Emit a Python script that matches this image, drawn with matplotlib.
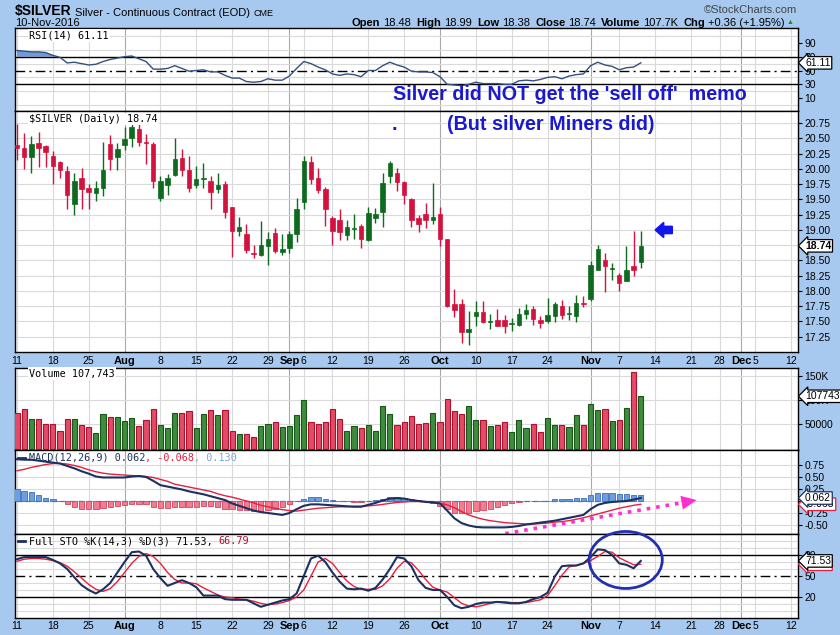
import matplotlib
matplotlib.use('Agg')
import matplotlib.pyplot as plt
import matplotlib.transforms as mtransforms
from matplotlib.patches import Ellipse, FancyArrow
from matplotlib.lines import Line2D
import numpy as np

plt.rcParams['font.family'] = ['Liberation Sans', 'DejaVu Sans']

# daily silver bars, 11-Jul-2016 .. 10-Nov-2016 (trading-day index)
opens = [20.39, 20.35, 20.20, 20.43, 20.37, 20.22, 20.12, 19.97, 19.42, 19.86,
         19.68, 19.60, 19.68, 20.41, 20.20, 20.39, 20.50, 20.66, 20.44, 20.41,
         19.52, 19.73, 19.90, 20.18, 19.99, 19.73, 19.83, 19.81, 19.67, 19.76,
         19.37, 18.98, 18.93, 18.63, 18.59, 18.73, 18.95, 18.64, 18.71, 18.94,
         19.46, 20.12, 19.86, 19.67, 19.19, 19.16, 18.92, 19.01, 19.06, 18.83,
         19.20, 19.30, 19.89, 19.94, 19.79, 19.50, 19.19, 19.26, 19.16, 19.26,
         18.86, 17.79, 17.78, 17.32, 17.59, 17.66, 17.49, 17.52, 17.52, 17.46,
         17.45, 17.62, 17.70, 17.53, 17.50, 17.59, 17.76, 17.62, 17.59, 17.81,
         17.87, 18.35, 18.50, 18.36, 18.27, 18.17, 18.41, 18.48]
highs = [20.73, 20.59, 20.54, 20.61, 20.39, 20.30, 20.13, 20.05, 19.93, 20.01,
         19.75, 19.80, 20.45, 20.55, 20.43, 20.68, 20.73, 20.73, 20.57, 20.45,
         19.89, 19.91, 20.50, 20.32, 20.22, 20.05, 20.10, 19.89, 19.93, 19.80,
         19.37, 19.22, 19.09, 18.75, 19.14, 18.97, 19.03, 18.93, 18.98, 19.53,
         20.21, 20.22, 20.01, 19.71, 19.23, 19.34, 19.17, 19.27, 19.09, 19.37,
         19.36, 19.94, 20.13, 20.01, 19.81, 19.53, 19.25, 19.45, 19.77, 19.37,
         18.86, 18.04, 17.87, 17.68, 17.84, 17.84, 17.63, 17.70, 17.61, 17.56,
         17.72, 17.79, 17.75, 17.59, 17.89, 17.82, 17.86, 17.75, 17.93, 17.91,
         18.49, 18.75, 18.63, 18.46, 18.30, 18.74, 18.99, 18.99]
lows = [20.15, 20.00, 19.94, 20.04, 20.04, 19.75, 19.85, 19.35, 19.24, 19.35,
        19.34, 19.47, 19.56, 19.98, 19.98, 20.31, 20.36, 20.38, 20.08, 19.68,
        19.48, 19.58, 19.89, 19.89, 19.63, 19.68, 19.68, 19.35, 19.60, 19.19,
        18.55, 18.90, 18.62, 18.54, 18.57, 18.43, 18.62, 18.59, 18.63, 18.81,
        19.35, 19.75, 19.61, 19.06, 18.75, 18.83, 18.83, 18.85, 18.71, 18.82,
        19.12, 19.05, 19.77, 19.64, 19.42, 19.05, 18.97, 19.04, 19.09, 18.74,
        17.74, 17.58, 17.14, 17.12, 17.42, 17.47, 17.38, 17.42, 17.31, 17.35,
        17.43, 17.54, 17.45, 17.39, 17.48, 17.49, 17.54, 17.53, 17.49, 17.74,
        17.83, 18.34, 17.98, 18.18, 18.00, 18.16, 18.25, 18.38]
closes = [20.35, 20.20, 20.41, 20.35, 20.28, 20.05, 19.98, 19.58, 19.81, 19.67,
          19.62, 19.68, 19.98, 20.16, 20.33, 20.49, 20.68, 20.44, 20.43, 19.80,
          19.80, 19.85, 20.16, 19.99, 19.68, 19.83, 19.86, 19.63, 19.73, 19.30,
          18.98, 19.05, 18.67, 18.61, 18.75, 18.85, 18.65, 18.69, 18.94, 19.35,
          20.13, 19.83, 19.65, 19.35, 18.98, 18.97, 19.05, 19.04, 18.86, 19.28,
          19.27, 19.77, 20.09, 19.79, 19.57, 19.16, 19.10, 19.16, 19.21, 18.86,
          17.76, 17.69, 17.32, 17.38, 17.66, 17.49, 17.50, 17.43, 17.42, 17.47,
          17.63, 17.69, 17.54, 17.48, 17.60, 17.79, 17.61, 17.64, 17.80, 17.79,
          18.42, 18.68, 18.41, 18.38, 18.13, 18.35, 18.35, 18.74]
volume = [73, 82, 61, 61, 51, 51, 37, 61, 61, 48,
          44, 33, 71, 66, 65, 57, 63, 47, 59, 82,
          49, 43, 73, 73, 78, 43, 71, 80, 69, 80,
          37, 29, 31, 24, 47, 51, 55, 45, 47, 69,
          100, 55, 51, 55, 82, 61, 37, 47, 43, 49,
          37, 88, 71, 49, 55, 67, 51, 53, 73, 55,
          102, 78, 71, 88, 59, 59, 47, 49, 55, 35,
          59, 43, 51, 35, 63, 49, 49, 45, 69, 49,
          92, 80, 82, 57, 59, 84, 157, 107.743]
rsi = [79, 78, 77, 77, 76, 72, 69, 61, 62, 60,
       58, 59, 63, 66, 68, 70, 71, 67, 63, 52,
       52, 53, 57, 53, 49, 50, 51, 48, 48, 43,
       39, 39, 34, 33, 34, 38, 36, 36, 42, 53,
       63, 60, 55, 51, 45, 43, 45, 44, 41, 50,
       50, 57, 62, 58, 55, 49, 48, 48, 47, 41,
       30, 29, 28, 30, 33, 31, 31, 31, 30, 30,
       35, 36, 35, 37, 40, 41, 38, 42, 44, 45,
       57, 62, 58, 56, 51, 54, 55, 61.11]
macd = [0.87, 0.86, 0.86, 0.84, 0.82, 0.80, 0.78, 0.73, 0.68, 0.62,
        0.57, 0.51, 0.49, 0.49, 0.49, 0.49, 0.51, 0.52, 0.50, 0.42,
        0.33, 0.30, 0.27, 0.24, 0.20, 0.17, 0.14, 0.10, 0.06, 0.02,
        -0.05, -0.10, -0.15, -0.20, -0.23, -0.25, -0.27, -0.29, -0.25, -0.17,
        -0.10, -0.07, -0.07, -0.08, -0.09, -0.10, -0.11, -0.12, -0.12, -0.08,
        -0.04, 0.01, 0.05, 0.06, 0.05, 0.02, 0.00, -0.02, -0.03, -0.05,
        -0.20, -0.36, -0.46, -0.51, -0.54, -0.55, -0.55, -0.55, -0.55, -0.54,
        -0.52, -0.49, -0.47, -0.45, -0.43, -0.41, -0.38, -0.35, -0.32, -0.29,
        -0.17, -0.08, -0.04, -0.02, -0.01, 0.00, 0.03, 0.062]
signal = [0.63, 0.66, 0.70, 0.73, 0.76, 0.78, 0.785, 0.77, 0.74, 0.70,
          0.65, 0.61, 0.58, 0.56, 0.55, 0.54, 0.53, 0.52, 0.51, 0.49,
          0.45, 0.41, 0.35, 0.32, 0.29, 0.26, 0.23, 0.20, 0.15, 0.11,
          0.08, 0.04, 0.00, -0.04, -0.09, -0.12, -0.15, -0.18, -0.20, -0.21,
          -0.19, -0.17, -0.15, -0.14, -0.13, -0.12, -0.12, -0.11, -0.11, -0.10,
          -0.09, -0.07, -0.05, -0.03, -0.02, -0.01, -0.01, -0.01, -0.02, -0.05,
          -0.08, -0.14, -0.22, -0.29, -0.34, -0.38, -0.41, -0.43, -0.45, -0.46,
          -0.47, -0.48, -0.48, -0.47, -0.46, -0.44, -0.43, -0.41, -0.38, -0.35,
          -0.31, -0.27, -0.23, -0.19, -0.15, -0.12, -0.09, -0.068]
macd_hist = [0.24, 0.21, 0.19, 0.12, 0.07, 0.035, 0.0, -0.07, -0.12, -0.16,
             -0.16, -0.16, -0.15, -0.12, -0.10, -0.08, -0.07, -0.055, -0.07, -0.12,
             -0.14, -0.14, -0.12, -0.12, -0.12, -0.12, -0.10, -0.10, -0.12, -0.16,
             -0.17, -0.19, -0.19, -0.21, -0.21, -0.19, -0.16, -0.12, -0.055, 0.0,
             0.05, 0.08, 0.08, 0.05, 0.02, 0.0, -0.01, -0.02, -0.02, 0.0,
             0.02, 0.05, 0.08, 0.08, 0.07, 0.035, 0.015, -0.01, -0.035, -0.10,
             -0.17, -0.24, -0.24, -0.24, -0.21, -0.19, -0.16, -0.125, -0.09, -0.05,
             -0.02, -0.01, 0.0, 0.01, 0.01, 0.035, 0.035, 0.05, 0.06, 0.06,
             0.12, 0.17, 0.17, 0.16, 0.14, 0.14, 0.125, 0.13]
sto_k = [74, 77, 77, 77, 77, 73, 68, 60, 48, 37,
         30, 25, 31, 40, 55, 70, 84, 85, 79, 60,
         47, 36, 40, 44, 40, 34, 22, 22, 22, 17,
         16, 16, 16, 11, 6, 9, 12, 15, 17, 25,
         50, 75, 79, 70, 55, 42, 32, 31, 32, 29,
         33, 45, 60, 77, 75, 64, 44, 33, 30, 30,
         20, 8, 4, 6, 10, 12, 12, 13, 12, 11,
         11, 13, 17, 20, 26, 49, 64, 65, 65, 68,
         77, 88, 87, 80, 68, 66, 61, 71.53]
sto_d = [71, 74, 75, 75, 74, 72, 69, 64, 56, 47,
         38, 31, 28, 32, 42, 55, 68, 78, 82, 78,
         68, 55, 45, 40, 40, 39, 33, 28, 23, 20,
         19, 17, 16, 14, 11, 9, 10, 12, 15, 20,
         30, 50, 70, 75, 68, 55, 43, 35, 31, 31,
         31, 36, 46, 61, 71, 69, 58, 45, 34, 30,
         27, 19, 11, 7, 6, 8, 11, 13, 13, 12,
         12, 12, 14, 16, 22, 36, 51, 63, 65, 68,
         72, 78, 85, 84, 76, 71, 66, 66.79]

# date axis: trading-day positions of the labelled days (Sep 5 and Nov 24 are holidays)
tick_pos = [0, 5, 10, 15, 20, 25, 30, 35, 38, 40, 44, 49, 54, 59, 64, 69, 74,
            80, 84, 89, 94, 98, 101, 103, 108]
tick_lab = ['11', '18', '25', 'Aug', '8', '15', '22', '29', 'Sep', '6', '12', '19',
            '26', 'Oct', '10', '17', '24', 'Nov', '7', '14', '21', '28', 'Dec', '5', '12']
price_ticks = [17.25, 17.50, 17.75, 18.00, 18.25, 18.50, 18.75, 19.00, 19.25,
               19.50, 19.75, 20.00, 20.25, 20.50, 20.75]
vol_ticks = [50000, 100000, 150000]
vol_tick_lab = ['50000', '100K', '150K']
macd_ticks = [-0.50, -0.25, 0.0, 0.25, 0.50, 0.75]
macd_tick_lab = ['-0.50', '-0.25', '', '0.25', '0.50', '0.75']

W, H = 840, 635
BG = '#A7C9EF'
GRID = '#DADADA'
MGRID = '#A9A9A9'
RED = '#D3123F'
GREEN = '#0E6A1E'
NAVY = '#1D3060'
SIGRED = '#E5203F'
NOTE = '#1A1ACC'

x = np.arange(len(closes))
o = np.array(opens); c = np.array(closes)
hi = np.array(highs); lo = np.array(lows)
up = c >= o

fig = plt.figure(figsize=(W / 100, H / 100), dpi=100, facecolor=BG)


def panel(top, bottom):
    return fig.add_axes([15 / W, 1 - bottom / H, 783 / W, (bottom - top) / H])


def style(ax):
    ax.set_facecolor('white')
    ax.set_xlim(-0.28, 108.93)
    for s in ax.spines.values():
        s.set_color('black')
        s.set_linewidth(1)
    ax.yaxis.tick_right()
    ax.tick_params(axis='y', which='major', direction='out', length=3, width=0.8,
                   pad=1.5, labelsize=7.5)
    ax.tick_params(axis='y', which='minor', length=0)
    ax.set_xticks(tick_pos)
    ax.set_xticklabels([])
    ax.tick_params(axis='x', length=0)
    for p, l in zip(tick_pos, tick_lab):
        ax.axvline(p, color=MGRID if l.isalpha() else GRID, lw=0.8, zorder=0)
    ax.set_axisbelow(True)


def tag(ax, val, s, ec='black', tc='black', z=6, bold=False):
    tr = mtransforms.blended_transform_factory(ax.transAxes, ax.transData)
    ax.text(1 + 7 / 783, val, s, transform=tr, ha='left', va='center', fontsize=7.5,
            color=tc, clip_on=False, zorder=z, fontweight='bold' if bold else 'normal',
            bbox=dict(boxstyle='larrow,pad=0.12', fc='white', ec=ec, lw=0.9))


def seq_text(x0, y0, parts, **kw):
    r = fig.canvas.get_renderer()
    xx = x0
    for s, gap, props in parts:
        xx += gap
        t = fig.text(xx / W, 1 - y0 / H, s, va='baseline', **{**kw, **props})
        xx += t.get_window_extent(renderer=r).width
    return xx


def legend(y, s, color='black'):
    fig.text(29 / W, 1 - y / H, s, family='DejaVu Sans Mono', fontsize=7.3, va='center',
             color=color, bbox=dict(fc='white', ec='none', pad=0.8))


def tick_labels_x(ax, pad):
    ax.set_xticklabels(tick_lab, fontsize=7.5)
    ax.tick_params(axis='x', pad=pad)
    for t in ax.get_xticklabels():
        if t.get_text().isalpha():
            t.set_fontweight('bold')
            t.set_fontsize(8)


# ---- RSI
ax_rsi = panel(28, 111)
style(ax_rsi)
ax_rsi.set_ylim(-8.7, 111.6)
ax_rsi.set_yticks([10, 30, 50, 70, 90])
ax_rsi.set_yticks(range(0, 101, 10), minor=True)
ax_rsi.grid(axis='y', which='minor', color=GRID, lw=0.8)
ax_rsi.axhline(70, color='black', lw=1)
ax_rsi.axhline(30, color='black', lw=1)
ax_rsi.axhline(50, color='black', lw=1, ls=(0, (7, 3, 1.5, 3)))
r = np.array(rsi)
ax_rsi.fill_between(x, r, 70, where=r >= 70, interpolate=True, color='#6E9BDB', lw=0)
ax_rsi.fill_between(x, r, 30, where=r <= 30, interpolate=True, color='#6E9BDB', lw=0)
ax_rsi.plot(x, r, color='#34507E', lw=1)
tag(ax_rsi, rsi[-1], '61.11')

# ---- price
ax_p = panel(111, 352)
style(ax_p)
ax_p.set_ylim(17.0, 20.95)
ax_p.set_yticks(price_ticks)
ax_p.set_yticklabels(['%.2f' % v for v in price_ticks])
ax_p.grid(axis='y', color=GRID, lw=0.8)
cols = np.where(up, GREEN, RED)
ax_p.vlines(x, lo, hi, colors=cols, lw=1, zorder=2)
ax_p.bar(x, np.maximum(np.abs(c - o), 0.015), bottom=np.minimum(o, c), width=0.62,
         color=cols, edgecolor=cols, lw=0.5, zorder=3)
tick_labels_x(ax_p, 3)
tag(ax_p, closes[-1], '18.74', bold=True)
ax_p.add_patch(FancyArrow(91.4, 19.0, -2.4, 0, width=0.12, head_width=0.25,
                          head_length=1.2, length_includes_head=True,
                          color='#1414EE', zorder=5))

# ---- volume
ax_v = panel(368, 450)
style(ax_v)
ax_v.set_ylim(-3000, 166000)
ax_v.set_yticks(vol_ticks)
ax_v.set_yticklabels(vol_tick_lab)
ax_v.grid(axis='y', color=GRID, lw=0.8)
vol = np.array(volume) * 1000
ax_v.bar(x, vol, width=0.72, color=np.where(up, '#3E8C3E', '#E24C66'),
         edgecolor=np.where(up, '#1A561A', '#B0102E'), lw=0.8, zorder=3)
tag(ax_v, vol[-1], '107743')

# ---- MACD
ax_m = panel(450, 534)
style(ax_m)
ax_m.set_ylim(-0.6875, 1.0625)
ax_m.set_yticks(macd_ticks)
ax_m.set_yticklabels(macd_tick_lab)
ax_m.grid(axis='y', color=GRID, lw=0.8)
hist = np.array(macd_hist)
ax_m.hlines(0, x[0], x[-1], color='#5A85C8', lw=0.9, linestyles=(0, (4, 3)), zorder=2)
ax_m.bar(x, hist, width=0.75, color=np.where(hist >= 0, '#6C9FE2', '#F27D90'),
         edgecolor=np.where(hist >= 0, '#3C6EB6', '#D8405E'), lw=0.6, zorder=3)
ax_m.plot(x, signal, color=SIGRED, lw=1, zorder=4)
ax_m.plot(x, macd, color=NAVY, lw=1.5, zorder=5)
tag(ax_m, signal[-1], '-0.068', ec=SIGRED, tc='black', z=6)
tag(ax_m, macd[-1], '0.062', ec=NAVY, z=7)
# dotted magenta trend arrow
ax_m.plot([68.1, 92.6], [-0.68, -0.04], ls=':', color='#FF2FD2', lw=2.6,
          clip_on=False, zorder=8)
ax_m.annotate('', xy=(94.8, 0.02), xytext=(91.0, -0.08),
              arrowprops=dict(arrowstyle='-|>,head_length=1.1,head_width=0.5',
                              fc='#FF2FD2', ec='#FF2FD2', lw=0, mutation_scale=10,
                              shrinkA=0, shrinkB=0),
              annotation_clip=False, zorder=8)

# ---- Full stochastic
ax_s = panel(534, 618)
style(ax_s)
ax_s.set_ylim(-10, 110)
ax_s.set_yticks([20, 50, 80])
ax_s.set_yticks(range(0, 101, 10), minor=True)
ax_s.grid(axis='y', which='minor', color=GRID, lw=0.8)
ax_s.axhline(80, color='black', lw=1)
ax_s.axhline(20, color='black', lw=1)
ax_s.axhline(50, color='black', lw=1, ls=(0, (7, 3, 1.5, 3)))
ax_s.plot(x, sto_d, color=SIGRED, lw=1, zorder=4)
ax_s.plot(x, sto_k, color=NAVY, lw=1.5, zorder=5)
tick_labels_x(ax_s, 2)
tag(ax_s, sto_d[-1], '66.79', ec=SIGRED, z=6)
tag(ax_s, sto_k[-1], '71.53', z=7)
ax_s.add_patch(Ellipse((84.9, 72.9), 10.2, 81.4, fill=False, ec='#2230B0', lw=2,
                       clip_on=False, zorder=9))

# ---- panel legends
legend(35.5, 'RSI(14) 61.11')
legend(119, '$SILVER (Daily) 18.74')
legend(373.5, 'Volume 107,743')
mono = dict(family='DejaVu Sans Mono', fontsize=7.3)
seq_text(29, 460.5, [('MACD(12,26,9) 0.062', 0, dict(color=NAVY)),
                     (', -0.068', 0, dict(color=SIGRED)),
                     (', 0.130', 0, dict(color='#7DA6DA'))], **mono)
seq_text(29, 544, [('Full STO %K(14,3) %D(3) 71.53,', 0, dict(color='black')),
                   ('66.79', 6, dict(color='#B01030'))], **mono)
for yy in (457.5, 541):
    fig.add_artist(Line2D([18 / W, 25 / W], [1 - yy / H, 1 - yy / H], color=NAVY, lw=2))

# ---- header
seq_text(15, 15.5, [('$SILVER', 0, dict(fontsize=10, fontweight='bold')),
                    ('Silver - Continuous Contract (EOD)', 3, dict(fontsize=8)),
                    ('CME', 4, dict(fontsize=6.5))])
fig.text(15 / W, 1 - 26 / H, '10-Nov-2016', fontsize=8, va='baseline')
fig.text(797 / W, 1 - 13 / H, '\u00a9StockCharts.com', fontsize=8, color='#444444',
         ha='right', va='baseline')
b = dict(fontweight='bold')
n = dict()
end = seq_text(352, 25.7, [('Open', 0, b), ('18.48', 3, n), ('High', 5, b), ('18.99', 3, n),
                           ('Low', 5, b), ('18.38', 3, n), ('Close', 5, b), ('18.74', 3, n),
                           ('Volume', 5, b), ('107.7K', 3, n), ('Chg', 5, b),
                           ('+0.36 (+1.95%)', 3, n)], fontsize=8)
fig.text((end + 2) / W, 1 - 24 / H, '\u25b2', fontsize=5, color='#1E8C1E', va='baseline')

# ---- annotations
fig.text(569.5 / W, 1 - 100 / H, "Silver did NOT get the 'sell off'  memo", fontsize=14.2,
         fontweight='bold', color=NOTE, ha='center', va='baseline')
fig.text(551 / W, 1 - 130 / H, '(But silver Miners did)', fontsize=14.2,
         fontweight='bold', color=NOTE, ha='center', va='baseline')
fig.text(394 / W, 1 - 130 / H, '.', fontsize=14.2, fontweight='bold', color=NOTE,
         ha='center', va='baseline')

fig.savefig('out.png', dpi=100, facecolor=BG)
